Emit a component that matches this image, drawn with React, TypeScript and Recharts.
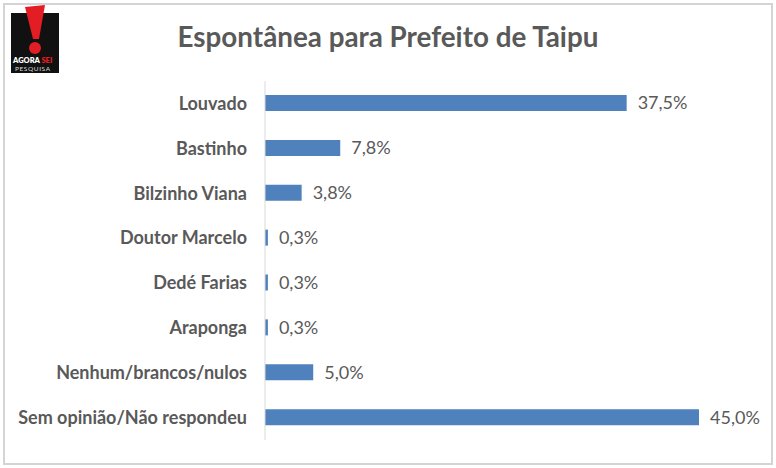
import { BarChart, Bar, XAxis, YAxis, LabelList } from "recharts";

const categories = [
    "Louvado",
    "Bastinho",
    "Bilzinho Viana",
    "Doutor Marcelo",
    "Dedé Farias",
    "Araponga",
    "Nenhum/brancos/nulos",
    "Sem opinião/Não respondeu",
];
const values = [37.5, 7.8, 3.8, 0.3, 0.3, 0.3, 5.0, 45.0];

const data = categories.map((name, i) => ({ name, value: values[i] }));

const FONT = "Lato, 'Open Sans', sans-serif";
const GREY = "#595959";

const fmt = (v: any) => `${Number(v).toFixed(1).replace(".", ",")}%`;

function Logo() {
    return (
        <svg width={48} height={68} style={{ position: "absolute", left: 11, top: 5 }}>
            <rect x={0} y={8} width={48} height={60} fill="#111" />
            <path d="M14 2 L34 0 L28 34 L22 34 Z" fill="#e21d24" />
            <circle cx={24} cy={43} r={6} fill="#e21d24" />
            <text x={2} y={58} fontSize={7.5} fontWeight={800} fill="#fff" fontFamily={FONT}>
                AGORA<tspan fill="#e21d24"> SEI</tspan>
            </text>
            <text x={4} y={66} fontSize={6.5} fill="#ddd" fontFamily={FONT} letterSpacing={0.6}>
                PESQUISA
            </text>
        </svg>
    );
}

export default function App() {
    return (
        <div style={{ position: "absolute", left: 0, top: 0, width: 776, height: 468, background: "#fff" }}>
            <div
                style={{
                    position: "absolute",
                    left: 3,
                    top: 3,
                    width: 766,
                    height: 458,
                    border: "2px solid #d4d4d4",
                }}
            />
            <Logo />
            <div
                style={{
                    position: "absolute",
                    left: 0,
                    width: 776,
                    top: 20,
                    textAlign: "center",
                    fontFamily: FONT,
                    fontWeight: 700,
                    fontSize: 27.8,
                    color: GREY,
                }}
            >
                Espontânea para Prefeito de Taipu
            </div>
            <div style={{ position: "absolute", left: 0, top: 0 }}>
                <BarChart
                    width={776}
                    height={468}
                    data={data}
                    layout="vertical"
                    margin={{ top: 81, right: 77, left: 0, bottom: 28 }}
                    barSize={16}
                >
                    <XAxis type="number" domain={[0, 45]} hide />
                    <YAxis
                        dataKey="name"
                        type="category"
                        width={265}
                        tickLine={false}
                        tickMargin={12}
                        axisLine={{ stroke: "#d9d9d9" }}
                        tick={{ fontSize: 18, fontWeight: 700, fill: GREY, fontFamily: FONT }}
                    />
                    <Bar dataKey="value" fill="#4f81bd" isAnimationActive={false}>
                        <LabelList
                            dataKey="value"
                            position="right"
                            offset={11}
                            formatter={fmt}
                            style={{ fontSize: 18, fill: GREY, fontFamily: FONT }}
                        />
                    </Bar>
                </BarChart>
            </div>
        </div>
    );
}
